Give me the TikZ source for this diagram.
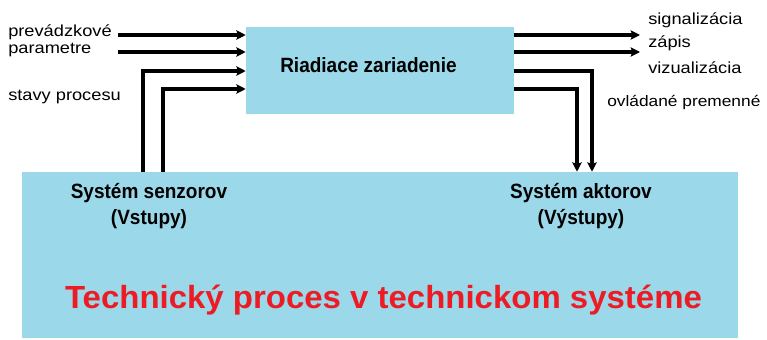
\documentclass[tikz,border=0pt]{standalone}
\usepackage{fontspec}
\setmainfont{Liberation Sans}
\newfontfamily\lblfont[FakeStretch=1.14]{Liberation Sans}
\newfontfamily\boxfont[FakeStretch=0.92]{Liberation Sans}
\newfontfamily\procfont[FakeStretch=1.03]{Liberation Sans}
\usetikzlibrary{arrows.meta,positioning}
\definecolor{boxblue}{RGB}{155,216,233}
\definecolor{procred}{RGB}{237,28,36}

\begin{document}
\begin{tikzpicture}[x=0.75pt,y=-0.75pt,>={Stealth[length=7pt,width=7pt,inset=1.2pt]},
  flow/.style={->,line width=2.6pt},
  block/.style={draw=none,fill=boxblue,inner sep=0pt},
  lbl/.style={anchor=west,inner sep=0pt,font=\lblfont\fontsize{12}{14}\selectfont},
  blbl/.style={inner sep=0pt,align=center,font=\boxfont\bfseries\fontsize{15.5}{20}\selectfont}]
\useasboundingbox (0,0) rectangle (767,339);

% blocks
\node[block,minimum width=201pt,minimum height=65.25pt] (ctrl) at (380,70.5) {};
\node[block,minimum width=537pt,minimum height=124.5pt] (proc) at (380,255) {};
\node[blbl,font=\boxfont\bfseries\fontsize{15.5}{18}\selectfont] (ctrl label) at (368.5,65.5) {Riadiace zariadenie};
\node[blbl] (sensors) at (149,206) {Systém senzorov\\(Vstupy)};
\node[blbl] (actors) at (581,206) {Systém aktorov\\(Výstupy)};
\node[inner sep=0pt,text=procred,font=\procfont\bfseries\fontsize{24}{28}\selectfont] (proc label) at (383.5,300) {Technický proces v technickom systéme};

% labels
\node[lbl] (par1) at (8,32) {prevádzkové};
\node[lbl] (par2) at (8,50) {parametre};
\node[lbl] (states) at (8,97) {stavy procesu};
\node[lbl] (sig) at (648,20) {signalizácia};
\node[lbl] (rec) at (648,43) {zápis};
\node[lbl] (vis) at (648,68) {vizualizácia};
\node[lbl,font=\lblfont\fontsize{11.4}{14}\selectfont] (ctrlvar) at (607,102) {ovládané premenné};

% signal points
\coordinate (in1) at (118,35);
\coordinate (in2) at (118,52);
\coordinate (s1) at (143,71);
\coordinate (s2) at (163,89);
\coordinate (out1) at (640,35);
\coordinate (out2) at (640,52);
\coordinate (a1) at (592,71);
\coordinate (a2) at (577,89);

% connectors
\draw[flow] (in1) -- (in1 -| ctrl.west);
\draw[flow] (in2) -- (in2 -| ctrl.west);
\draw[flow] (s1 |- proc.north) |- (s1 -| ctrl.west);
\draw[flow] (s2 |- proc.north) |- (s2 -| ctrl.west);
\draw[flow] (out1 -| ctrl.east) -- (out1);
\draw[flow] (out2 -| ctrl.east) -- (out2);
\draw[flow] (a1 -| ctrl.east) -| (a1 |- proc.north);
\draw[flow] (a2 -| ctrl.east) -| (a2 |- proc.north);
\end{tikzpicture}
\end{document}
